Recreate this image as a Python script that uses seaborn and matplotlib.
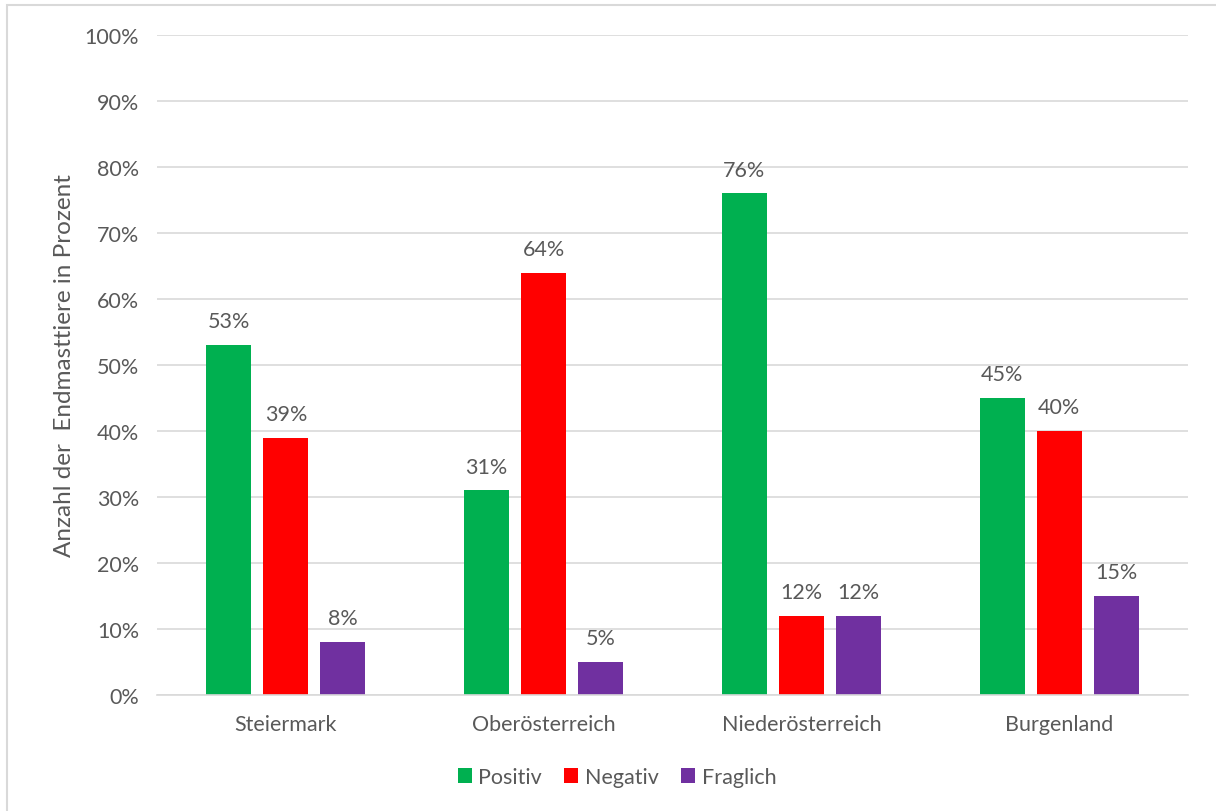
import matplotlib
matplotlib.use("Agg")
import matplotlib.pyplot as plt
import seaborn as sns
import pandas as pd
from matplotlib.patches import Rectangle

regions = ["Steiermark", "Oberösterreich", "Niederösterreich", "Burgenland"]
series = ["Positiv", "Negativ", "Fraglich"]
positiv = [53, 31, 76, 45]
negativ = [39, 64, 12, 40]
fraglich = [8, 5, 12, 15]
colors = ["#00B050", "#FF0000", "#7030A0"]
ytick_labels = ["0%", "10%", "20%", "30%", "40%", "50%", "60%", "70%", "80%", "90%", "100%"]

rows = []
for name, vals in zip(series, [positiv, negativ, fraglich]):
    for r, v in zip(regions, vals):
        rows.append({"Region": r, "Serie": name, "Wert": v})
df = pd.DataFrame(rows)

sns.set_theme(style="white")
plt.rcParams['font.family'] = ['Lato', 'DejaVu Sans']
txt = "#595959"
fs = 15.5

fig = plt.figure(figsize=(12.16, 8.12), dpi=100)
ax = fig.add_axes([157/1216, 1-696/812, (1188-157)/1216, (696-36)/812])

sns.barplot(data=df, x="Region", y="Wert", hue="Serie", order=regions,
            hue_order=series, palette=colors, width=0.663, gap=0.21,
            saturation=1, ax=ax, legend=True, linewidth=0, edgecolor="none")

ax.set_ylim(0, 100)
ax.set_xlim(-0.5, 3.5)
ax.set_yticks(range(0, 101, 10))
ax.set_yticklabels(ytick_labels)
ax.yaxis.grid(True, color="#D9D9D9", linewidth=1.2)
ax.set_axisbelow(True)
for s in ["left", "right", "top"]:
    ax.spines[s].set_visible(False)
ax.spines["bottom"].set_color("#D9D9D9")
ax.spines["bottom"].set_linewidth(1.2)
ax.tick_params(axis="both", length=0, labelsize=fs, colors=txt)
ax.tick_params(axis="y", pad=13)
ax.tick_params(axis="x", pad=14)
ax.set_xlabel("")
ax.set_ylabel("Anzahl der  Endmasttiere in Prozent", fontsize=17.5, color=txt, labelpad=14)
ax.yaxis.set_label_coords(-82/1031, 0.5)

for cont in ax.containers:
    ax.bar_label(cont, labels=[f"{int(v)}%" for v in cont.datavalues],
                 padding=10, fontsize=fs, color=txt)

handles, labels = ax.get_legend_handles_labels()
ax.get_legend().remove()
leg = fig.legend(handles, labels, loc="center", bbox_to_anchor=(617/1216, 1-778/812), ncol=3,
                 frameon=False, fontsize=15.5, handlelength=0.65, handleheight=0.65,
                 handletextpad=0.3, columnspacing=1.05)
for t in leg.get_texts():
    t.set_color(txt)

fig.patches.append(Rectangle((7/1216, -0.05), 1.1, 1 - 6/812 + 0.05, transform=fig.transFigure,
                             fill=False, edgecolor="#D9D9D9", linewidth=1.5))

fig.savefig("out.png", dpi=100)
